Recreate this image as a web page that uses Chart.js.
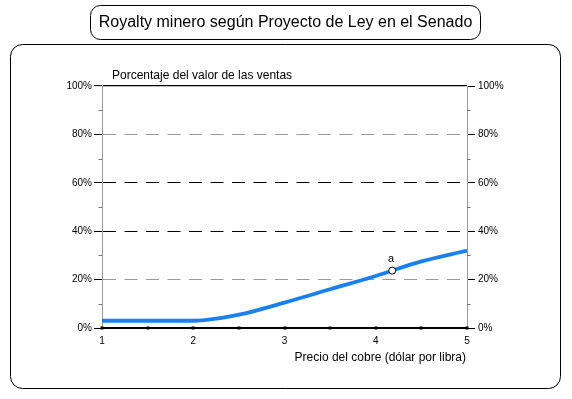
<!DOCTYPE html>
<html lang="es">
<head>
<meta charset="UTF-8">
<title>Royalty minero según Proyecto de Ley en el Senado</title>
<script src="https://cdn.jsdelivr.net/npm/chart.js@4"></script>
<style>
  body { margin: 0; background: #fff; }
  #wrap { width: 572px; height: 399px; position: relative; }
</style>
</head>
<body>
<div id="wrap"><canvas id="royaltyChart"></canvas></div>
<script>
// data
const copperPrice = [1, 1.5, 2, 2.5, 3, 3.5, 4, 4.5, 5];
const royaltyPct = [3, 3, 3, 5.5, 10.5, 16, 21.5, 27.5, 32];
const markerX = [4.18];
const markerY = [23.7];
const markerLabels = ['a'];
const yMinorTicks = [10, 30, 50, 70, 90];
const xTickMarks = [1, 1.5, 2, 2.5, 3, 3.5, 4, 4.5, 5];

const chartTitle = 'Royalty minero según Proyecto de Ley en el Senado';
const yTitle = 'Porcentaje del valor de las ventas';
const xTitle = 'Precio del cobre (dólar por libra)';

const FONT = '"Liberation Sans", Arial, sans-serif';
Chart.defaults.font.family = FONT;
Chart.defaults.color = '#000';

function roundBox(ctx, x, y, w, h, r) {
    ctx.beginPath();
    ctx.moveTo(x + r, y);
    ctx.lineTo(x + w - r, y);
    ctx.arcTo(x + w, y, x + w, y + r, r);
    ctx.lineTo(x + w, y + h - r);
    ctx.arcTo(x + w, y + h, x + w - r, y + h, r);
    ctx.lineTo(x + r, y + h);
    ctx.arcTo(x, y + h, x, y + h - r, r);
    ctx.lineTo(x, y + r);
    ctx.arcTo(x, y, x + r, y, r);
    ctx.closePath();
    ctx.stroke();
}

// frame, title box, axis titles, minor ticks
const decorations = {
    id: 'decorations',
    beforeDraw(chart) {
        const ctx = chart.ctx;
        ctx.save();
        ctx.fillStyle = '#fff';
        ctx.fillRect(0, 0, chart.width, chart.height);
        ctx.strokeStyle = '#000';
        ctx.lineWidth = 1;
        roundBox(ctx, 10.5, 44.5, 550, 344, 12);
        roundBox(ctx, 90.5, 5.5, 390, 34, 10);
        ctx.fillStyle = '#000';
        ctx.font = '16px ' + FONT;
        ctx.textAlign = 'center';
        ctx.textBaseline = 'middle';
        ctx.fillText(chartTitle, 285.5, 23);
        ctx.font = '12px ' + FONT;
        ctx.textAlign = 'left';
        ctx.fillText(yTitle, 112, 75.5);
        ctx.textAlign = 'right';
        ctx.fillText(xTitle, chart.chartArea.right - 1, 358);
        ctx.restore();
    },
    afterDraw(chart) {
        const ctx = chart.ctx;
        const area = chart.chartArea;
        const y = chart.scales.y;
        const x = chart.scales.x;
        ctx.save();
        ctx.strokeStyle = '#777';
        ctx.lineWidth = 1;
        yMinorTicks.forEach(v => {
            const py = Math.round(y.getPixelForValue(v)) + 0.5;
            ctx.beginPath();
            ctx.moveTo(area.left - 3.5, py);
            ctx.lineTo(area.left, py);
            ctx.moveTo(area.right, py);
            ctx.lineTo(area.right + 3.5, py);
            ctx.stroke();
        });
        ctx.fillStyle = '#000';
        xTickMarks.forEach(v => {
            const px = Math.round(x.getPixelForValue(v));
            ctx.fillRect(px - 1.5, area.bottom - 1.5, 3, 3);
        });
        ctx.restore();
    },
    afterDatasetsDraw(chart) {
        const ctx = chart.ctx;
        const meta = chart.getDatasetMeta(0);
        ctx.save();
        ctx.fillStyle = '#000';
        ctx.font = '11px ' + FONT;
        ctx.textAlign = 'center';
        ctx.textBaseline = 'middle';
        meta.data.forEach((pt, i) => {
            ctx.fillText(markerLabels[i], pt.x - 1, pt.y - 12);
        });
        ctx.restore();
    }
};

const dashed = [20, 40, 60, 80];
const greyLines = [20, 80];

const yAxis = {
    min: 0,
    max: 100,
    ticks: {
        stepSize: 20,
        padding: 2,
        font: { size: 10 },
        color: '#000',
        callback: v => v + '%'
    },
    grid: {
        color: c => (c.tick && greyLines.includes(c.tick.value)) ? '#9a9a9a' : '#000',
        lineWidth: c => (c.tick && (c.tick.value === 100)) ? 1.3 : 1,
        tickColor: '#000',
        tickLength: 8,
        tickWidth: 1,
        tickBorderDash: []
    },
    border: {
        color: '#999',
        width: 1,
        dash: c => (c.tick && dashed.includes(c.tick.value)) ? [13, 8.5] : []
    }
};

const ctx = document.getElementById('royaltyChart').getContext('2d');
const chart = new Chart(ctx, {
    type: 'line',
    data: {
        datasets: [{
            label: 'a',
            data: markerX.map((v, i) => ({ x: v, y: markerY[i] })),
            showLine: false,
            pointRadius: 3.5,
            pointBackgroundColor: '#fff',
            pointBorderColor: '#000',
            pointBorderWidth: 1,
            order: 0
        }, {
            label: 'Royalty',
            data: copperPrice.map((v, i) => ({ x: v, y: royaltyPct[i] })),
            borderColor: '#1a80f0',
            borderWidth: 3.8,
            borderJoinStyle: 'round',
            pointRadius: 0,
            cubicInterpolationMode: 'monotone',
            fill: false,
            order: 1
        }]
    },
    options: {
        responsive: true,
        maintainAspectRatio: false,
        animation: false,
        layout: { padding: { top: 86, left: 0, right: 0, bottom: 0 } },
        plugins: {
            legend: { display: false },
            tooltip: { enabled: false },
            title: { display: false }
        },
        scales: {
            x: {
                type: 'linear',
                min: 1,
                max: 5,
                afterFit: s => { s.height = 71; },
                ticks: {
                    stepSize: 0.5,
                    autoSkip: false,
                    maxRotation: 0,
                    padding: 7,
                    font: { size: 10 },
                    color: '#000',
                    callback: v => Number.isInteger(v) ? String(v) : ''
                },
                grid: { drawOnChartArea: false, drawTicks: false },
                border: { color: '#000', width: 1.3 }
            },
            y: Object.assign({}, yAxis, {
                position: 'left',
                afterFit: s => { s.width = 102; }
            }),
            y2: {
                position: 'right',
                min: 0,
                max: 100,
                afterFit: s => { s.width = 105; },
                ticks: {
                    stepSize: 20,
                    padding: 3,
                    font: { size: 10 },
                    color: '#000',
                    callback: v => v + '%'
                },
                grid: {
                    drawOnChartArea: false,
                    tickColor: '#000',
                    tickLength: 8,
                    tickWidth: 1
                },
                border: { color: '#999', width: 1 }
            }
        }
    },
    plugins: [decorations]
});
</script>
</body>
</html>
